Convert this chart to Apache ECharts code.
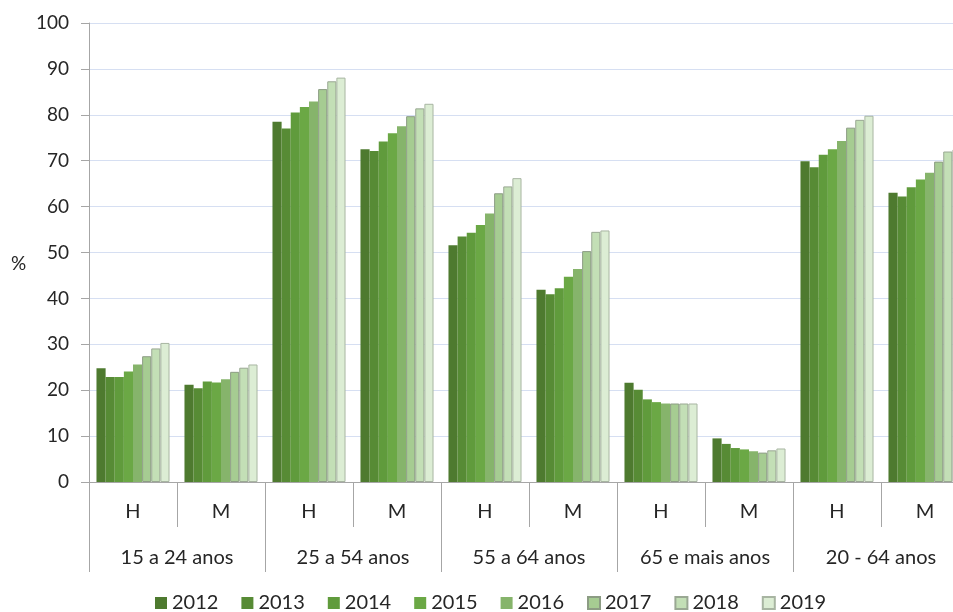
<!DOCTYPE html>
<html>
<head>
<meta charset="utf-8">
<script src="https://cdn.jsdelivr.net/npm/echarts@6/dist/echarts.min.js"></script>
<style>
html,body{margin:0;padding:0;background:#fff;overflow:hidden;width:953px;height:612px;}
#chart{width:975px;height:612px;}
</style>
</head>
<body>
<div id="chart"></div>
<script>
var sexLabels = ['H','M','H','M','H','M','H','M','H','M'];
var groupLabels = ['15 a 24 anos','25 a 54 anos','55 a 64 anos','65 e mais anos','20 - 64 anos'];
var years = ['2012','2013','2014','2015','2016','2017','2018','2019'];
var yTicks = [0,100,10];

var s2012 = [24.8, 21.2, 78.5, 72.5, 51.6, 41.9, 21.6, 9.5, 69.9, 63.0];
var s2013 = [22.9, 20.4, 77.0, 72.1, 53.5, 40.9, 20.1, 8.3, 68.6, 62.2];
var s2014 = [22.9, 21.9, 80.5, 74.2, 54.3, 42.2, 18.0, 7.4, 71.3, 64.2];
var s2015 = [24.1, 21.7, 81.7, 76.0, 56.0, 44.7, 17.4, 7.1, 72.5, 65.9];
var s2016 = [25.6, 22.4, 82.9, 77.5, 58.5, 46.4, 17.1, 6.7, 74.3, 67.4];
var s2017 = [27.4, 24.0, 85.6, 79.7, 62.9, 50.3, 17.1, 6.4, 77.2, 69.8];
var s2018 = [29.1, 24.9, 87.3, 81.4, 64.4, 54.5, 17.1, 6.9, 78.9, 72.0];
var s2019 = [30.3, 25.6, 88.1, 82.4, 66.2, 54.8, 17.1, 7.3, 79.8, 72.4];

var allSeries = [s2012, s2013, s2014, s2015, s2016, s2017, s2018, s2019];
var colors = ['#4e7a2f','#578b35','#609b3c','#6ba845','#86b46b','#a6cc92','#c3dfb6','#dcedd4'];
var borders = [null,null,null,null,null,'#8c9c84','#9aa893','#a8b5a2'];

var font = 'Lato, "Open Sans", sans-serif';
var textColor = '#262626';
var axisGray = '#a6a6a6';

var series = allSeries.map(function(d, i){
  var st = {color: colors[i]};
  if (borders[i]) { st.borderColor = borders[i]; st.borderWidth = 1; }
  return {
    name: years[i],
    type: 'bar',
    xAxisIndex: 0,
    data: d,
    barGap: '0%',
    barCategoryGap: '17%',
    itemStyle: st
  };
});

var chart = echarts.init(document.getElementById('chart'));
chart.setOption({
  animation: false,
  color: colors,
  grid: {left: 89, top: 23, right: 6, height: 459},
  legend: {
    bottom: -6,
    left: 150,
    itemWidth: 12,
    itemHeight: 12,
    itemGap: 23,
    icon: 'rect',
    textStyle: {fontFamily: font, fontSize: 20, color: textColor},
    data: years
  },
  graphic: [{
    type: 'text',
    left: 11,
    top: 254,
    style: {text: '%', font: '19px ' + font, fill: textColor}
  }],
  xAxis: [
    {
      type: 'category',
      data: sexLabels,
      position: 'bottom',
      axisLine: {show: true, lineStyle: {color: axisGray}},
      axisTick: {show: true, interval: 0, length: 45, lineStyle: {color: axisGray}},
      axisLabel: {interval: 0, margin: 20, fontFamily: font, fontSize: 20, color: textColor}
    },
    {
      type: 'category',
      data: groupLabels,
      position: 'bottom',
      axisLine: {show: true, lineStyle: {color: axisGray}},
      axisTick: {show: true, interval: 0, length: 90, lineStyle: {color: axisGray}},
      axisLabel: {interval: 0, margin: 66, fontFamily: font, fontSize: 20, color: textColor}
    }
  ],
  yAxis: {
    type: 'value',
    min: yTicks[0],
    max: yTicks[1],
    interval: yTicks[2],
    axisLine: {show: true, lineStyle: {color: axisGray}},
    axisTick: {show: true, length: 8, lineStyle: {color: axisGray}},
    axisLabel: {margin: 20, fontFamily: font, fontSize: 19, color: textColor},
    splitLine: {show: true, lineStyle: {color: '#d6dff2', width: 1}}
  },
  series: series
});
</script>
</body>
</html>
